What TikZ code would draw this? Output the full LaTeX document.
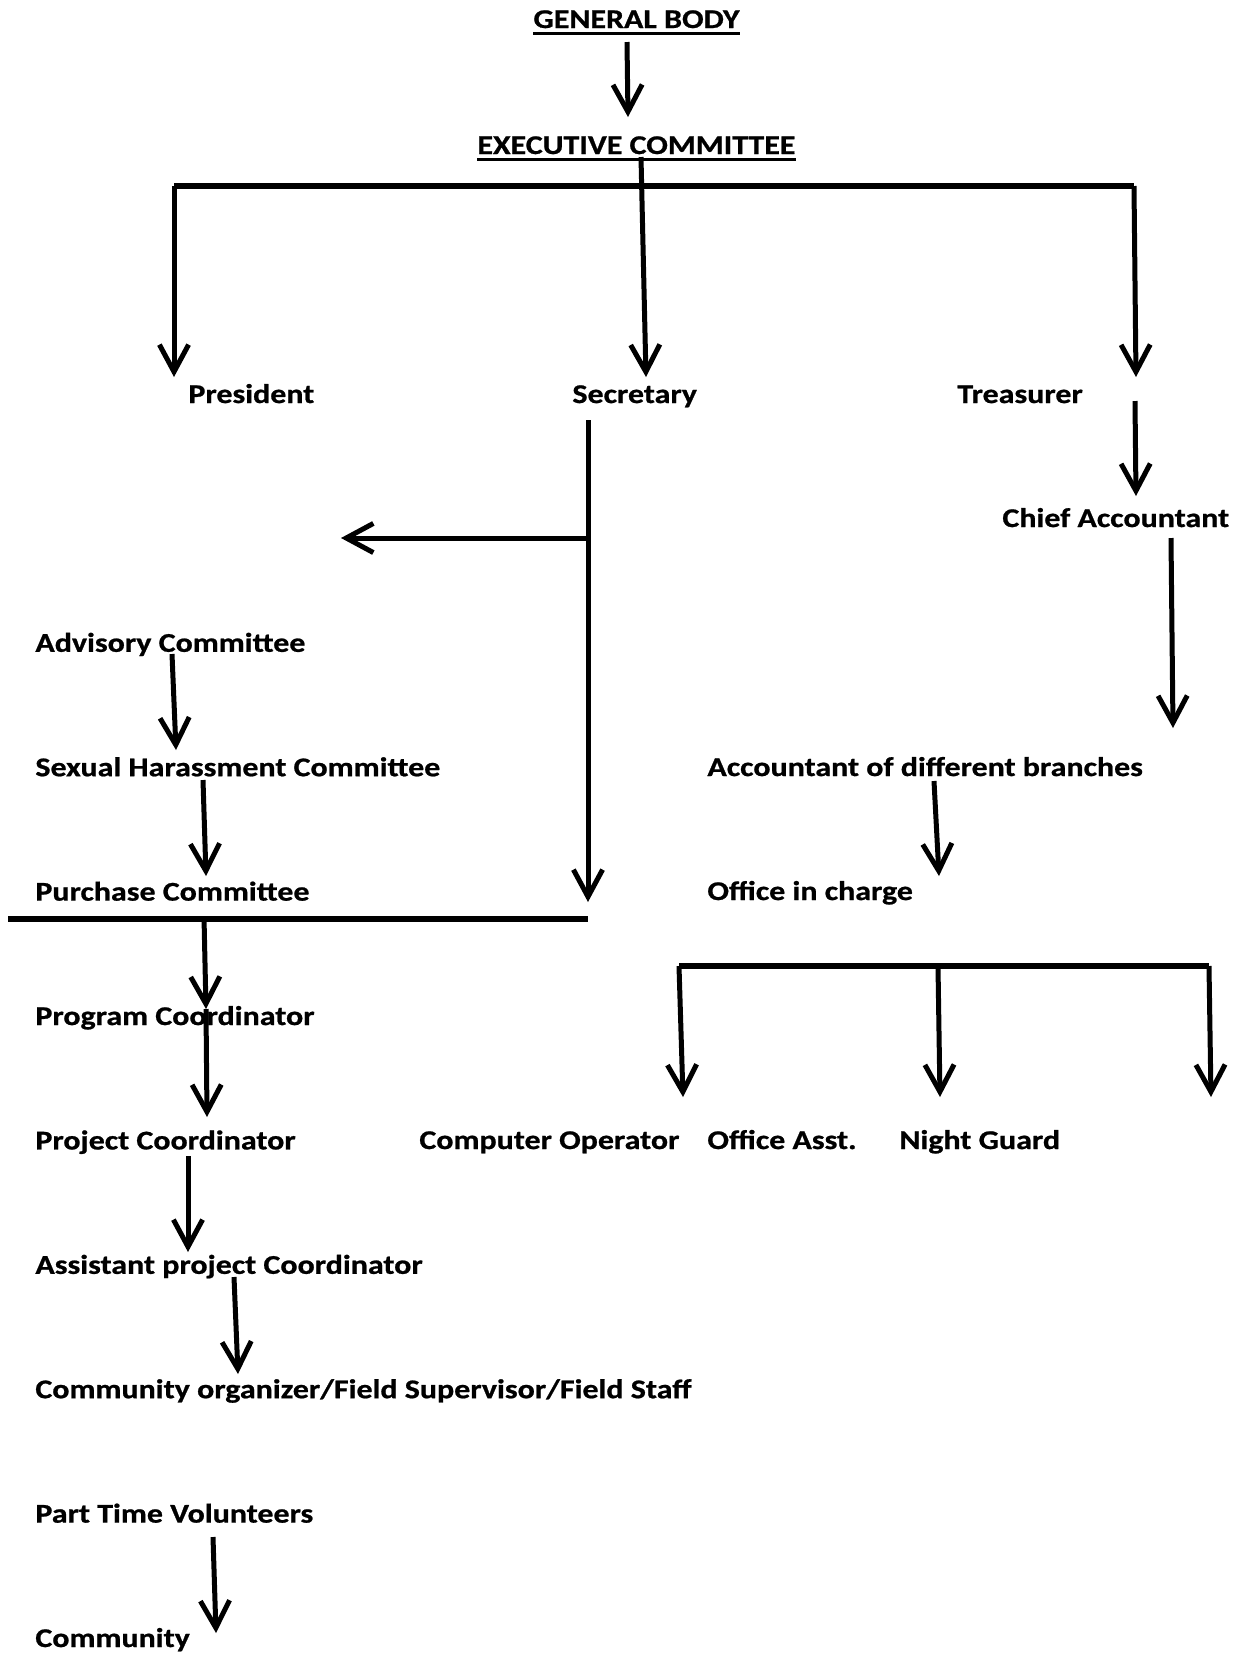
\documentclass[tikz,border=0pt]{standalone}
\usepackage{fontspec}
\setmainfont{Carlito}[FakeStretch=1.18, FakeBold=0.8]
\usetikzlibrary{arrows.meta}

\begin{document}
\begin{tikzpicture}[x=0.48pt, y=-0.48pt,
    lbl/.style={anchor=base west, inner sep=0pt, font=\fontsize{13}{15}\selectfont\bfseries},
    link/.style={line width=2.4pt, -{Straight Barb[length=13pt, width=14pt]}},
    bar/.style={line width=3pt},
    uline/.style={line width=1.1pt}]
    % 1. page frame (pixel grid, y runs downwards)
    \useasboundingbox (0,0) rectangle (1241,1655);

    % 2. top of the chart
    \node[lbl] (gb) at (533,28) {GENERAL BODY};
    \node[lbl] (ec) at (477,154) {EXECUTIVE COMMITTEE};
    \foreach \n in {gb, ec}
        \draw[uline] ([yshift=-2.6pt]\n.base west) -- ([yshift=-2.6pt]\n.base east);

    % 3. office bearers
    \foreach \name/\x/\txt in {pres/188/President, sec/572/Secretary, tre/957/Treasurer}
        \node[lbl] (\name) at (\x,403) {\txt};

    % 4. secretary side, one label per row
    \foreach \name/\row/\txt in {adv/2/Advisory Committee, shc/3/Sexual Harassment Committee,
        pc/4/Purchase Committee, prog/5/Program Coordinator, proj/6/Project Coordinator,
        apc/7/Assistant project Coordinator, ptv/9/Part Time Volunteers, comm/10/Community}
        \node[lbl] (\name) at (35,{403+124.4*\row}) {\txt};
    \node[lbl] (field) at (35,{403+124.4*8}) {Community organizer/Field Supervisor/Field Staff};

    % 5. treasurer side
    \node[lbl] (chief) at (1002,527) {Chief Accountant};
    \node[lbl] (acct) at (707,776) {Accountant of different branches};
    \node[lbl] (oic) at (707,900) {Office in charge};
    \foreach \name/\x/\txt in {cop/419/Computer Operator, oas/707/Office Asst., ngu/899/Night Guard}
        \node[lbl] (\name) at (\x,1149) {\txt};

    % 6. bars
    \coordinate (ec-l) at (174,186);  \coordinate (ec-r) at (1134,186);
    \draw[bar] (ec-l) -- (ec-r);
    \coordinate (pc-l) at (8,919);    \coordinate (pc-r) at (588,919);
    \draw[bar] (pc-l) -- (pc-r);
    \coordinate (oic-l) at (679,966); \coordinate (oic-r) at (1209,966);
    \draw[bar] (oic-l) -- (oic-r);

    % 7. arrows: name / start / tip
    \foreach \n/\xa/\ya/\xb/\yb in {
        gb/627/42/628/117, pres/174/186/174/377, sec/641/157/646/377, tre/1134/186/1136/377,
        chief/1135/401/1136/496, acct/1171/538/1173/728, oic/934/781/939/876,
        cop/679/966/683/1097, oas/938/966/940/1097, ngu/1209/966/1211/1097,
        sdown/588/420/588/902, sleft/588/538/341/538,
        shc/172/654/176/750, pc/203/780/206/876, prog/204/917/206/1009, proj/206/1009/207/1117,
        apc/188/1156/188/1252, field/234/1277/238/1374, comm/213/1537/216/1633}
    {
        \coordinate (\n-s) at (\xa,\ya);
        \coordinate (\n-e) at (\xb,\yb);
        \draw[link] (\n-s) -- (\n-e);
    }
\end{tikzpicture}
\end{document}
